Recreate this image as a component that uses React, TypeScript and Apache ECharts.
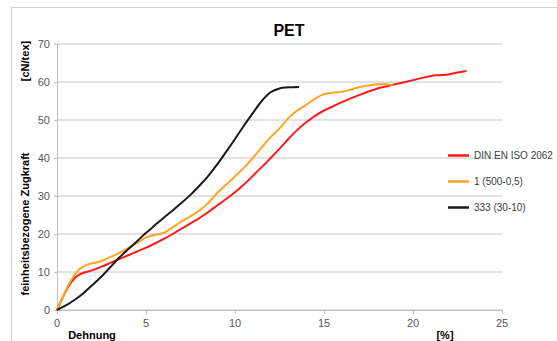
import React, { useEffect, useRef } from "react";
import * as echarts from "echarts";

const title = "PET";
const seriesNames = ["DIN EN ISO 2062", "1 (500-0,5)", "333 (30-10)"];

const dinX = [0, 0.25, 0.5, 0.75, 1, 1.25, 1.5, 2, 2.5, 3, 3.5, 4, 4.5, 5, 5.5, 6, 6.5, 7, 7.5, 8, 8.5, 9, 9.5, 10, 10.5, 11, 11.5, 12, 12.5, 13, 13.5, 14, 14.5, 15, 15.5, 16, 17, 18, 19, 20, 21, 21.5, 22, 22.5, 23];
const dinY = [0, 2.6, 5, 7, 8.4, 9.3, 9.8, 10.5, 11.4, 12.4, 13.4, 14.4, 15.4, 16.4, 17.5, 18.7, 20, 21.4, 22.8, 24.2, 25.8, 27.5, 29.2, 31, 33, 35.3, 37.6, 40, 42.4, 45, 47.4, 49.4, 51.1, 52.5, 53.6, 54.7, 56.6, 58.3, 59.4, 60.5, 61.6, 61.8, 62, 62.5, 62.9];

const s1X = [0, 0.25, 0.5, 0.75, 1, 1.25, 1.5, 1.75, 2, 2.5, 3, 3.5, 4, 4.5, 5, 5.5, 6, 6.5, 7, 7.5, 8, 8.5, 9, 9.5, 10, 10.5, 11, 11.5, 12, 12.5, 13, 13.5, 14, 14.5, 15, 15.5, 16, 16.5, 17, 17.5, 18, 18.5, 18.9];
const s1Y = [0, 2.5, 5.2, 7.5, 9.3, 10.7, 11.5, 12, 12.3, 12.9, 14, 15, 16.3, 17.6, 19.1, 19.8, 20.3, 21.8, 23.3, 24.7, 26.2, 28.2, 30.8, 33, 35.2, 37.4, 40, 42.8, 45.5, 47.8, 50.5, 52.5, 54, 55.6, 56.8, 57.2, 57.4, 58, 58.7, 59.1, 59.4, 59.4, 59.2];

const s333X = [0, 0.5, 1, 1.5, 2, 2.5, 3, 3.5, 4, 4.5, 5, 5.5, 6, 6.5, 7, 7.5, 8, 8.5, 9, 9.5, 10, 10.5, 11, 11.5, 12, 12.5, 13, 13.6];
const s333Y = [0, 1.2, 2.7, 4.5, 6.6, 8.8, 11.3, 13.8, 16, 18.1, 20.3, 22.3, 24.3, 26.2, 28.2, 30.3, 32.7, 35.3, 38.3, 41.6, 45, 48.5, 51.8, 55, 57.3, 58.3, 58.6, 58.7];

const colors = ["#ff1a1a", "#ffa424", "#1a1a1a"];

const zip = (xs: number[], ys: number[]) => xs.map((x, i) => [x, ys[i]]);

export default function App() {
  const ref = useRef<HTMLDivElement>(null);
  useEffect(() => {
    if (!ref.current) return;
    const chart = echarts.init(ref.current, null, { renderer: "svg" });
    const font = "Arial, 'Liberation Sans', sans-serif";
    chart.setOption({
      animation: false,
      backgroundColor: "#ffffff",
      textStyle: { fontFamily: font },
      title: {
        text: title,
        left: 284,
        top: 17,
        textAlign: "center",
        textStyle: { fontSize: 16, fontWeight: "bold", color: "#000", fontFamily: font },
      },
      graphic: [
        {
          type: "rect",
          shape: { x: 11.5, y: 7.5, width: 600, height: 400 },
          style: { fill: "none", stroke: "#d0d0d0", lineWidth: 1 },
          silent: true,
          z: -1,
        },
        {
          type: "text",
          x: 25,
          y: 224,
          rotation: Math.PI / 2,
          style: {
            text: "feinheitsbezogene Zugkraft",
            font: "bold 11px " + font,
            fill: "#000",
            align: "center",
            verticalAlign: "middle",
          },
        },
        {
          type: "text",
          x: 25,
          y: 61,
          rotation: Math.PI / 2,
          style: {
            text: "[cN/tex]",
            font: "bold 11px " + font,
            fill: "#000",
            align: "center",
            verticalAlign: "middle",
          },
        },
        {
          type: "text",
          x: 92,
          y: 335,
          style: {
            text: "Dehnung",
            font: "bold 11px " + font,
            fill: "#000",
            align: "center",
            verticalAlign: "middle",
          },
        },
        {
          type: "text",
          x: 445,
          y: 335,
          style: {
            text: "[%]",
            font: "bold 11px " + font,
            fill: "#000",
            align: "center",
            verticalAlign: "middle",
          },
        },
      ],
      legend: {
        orient: "vertical",
        left: 443,
        top: 144.5,
        icon: "rect",
        itemWidth: 21,
        itemHeight: 2.5,
        itemGap: 14,
        data: seriesNames,
        textStyle: { fontSize: 10, color: "#404040", lineHeight: 12, fontFamily: font },
      },
      grid: { left: 57, right: 55, top: 44, bottom: 31, containLabel: false },
      xAxis: {
        type: "value",
        min: 0,
        max: 25,
        interval: 5,
        axisLine: { show: true, lineStyle: { color: "#bfbfbf", width: 1 } },
        axisTick: { show: true, length: 4, lineStyle: { color: "#bfbfbf" } },
        axisLabel: { fontSize: 11, color: "#595959", margin: 7, fontFamily: font },
        splitLine: { show: false },
      },
      yAxis: {
        type: "value",
        min: 0,
        max: 70,
        interval: 10,
        axisLine: { show: true, lineStyle: { color: "#bfbfbf", width: 1 } },
        axisTick: { show: true, length: 3, lineStyle: { color: "#bfbfbf" } },
        axisLabel: { fontSize: 11, color: "#595959", margin: 7, fontFamily: font },
        splitLine: { show: true, lineStyle: { color: "#d9d9d9", width: 1.5 } },
      },
      series: [
        { name: seriesNames[0], data: zip(dinX, dinY), color: colors[0] },
        { name: seriesNames[1], data: zip(s1X, s1Y), color: colors[1] },
        { name: seriesNames[2], data: zip(s333X, s333Y), color: colors[2] },
      ].map((s) => ({
        ...s,
        type: "line",
        smooth: 0.25,
        symbol: "none",
        showSymbol: false,
        lineStyle: { width: 2, color: s.color },
        itemStyle: { color: s.color },
      })),
    });
    return () => chart.dispose();
  }, []);
  return <div ref={ref} style={{ width: 557, height: 341, position: "absolute", left: 0, top: 0 }} />;
}
